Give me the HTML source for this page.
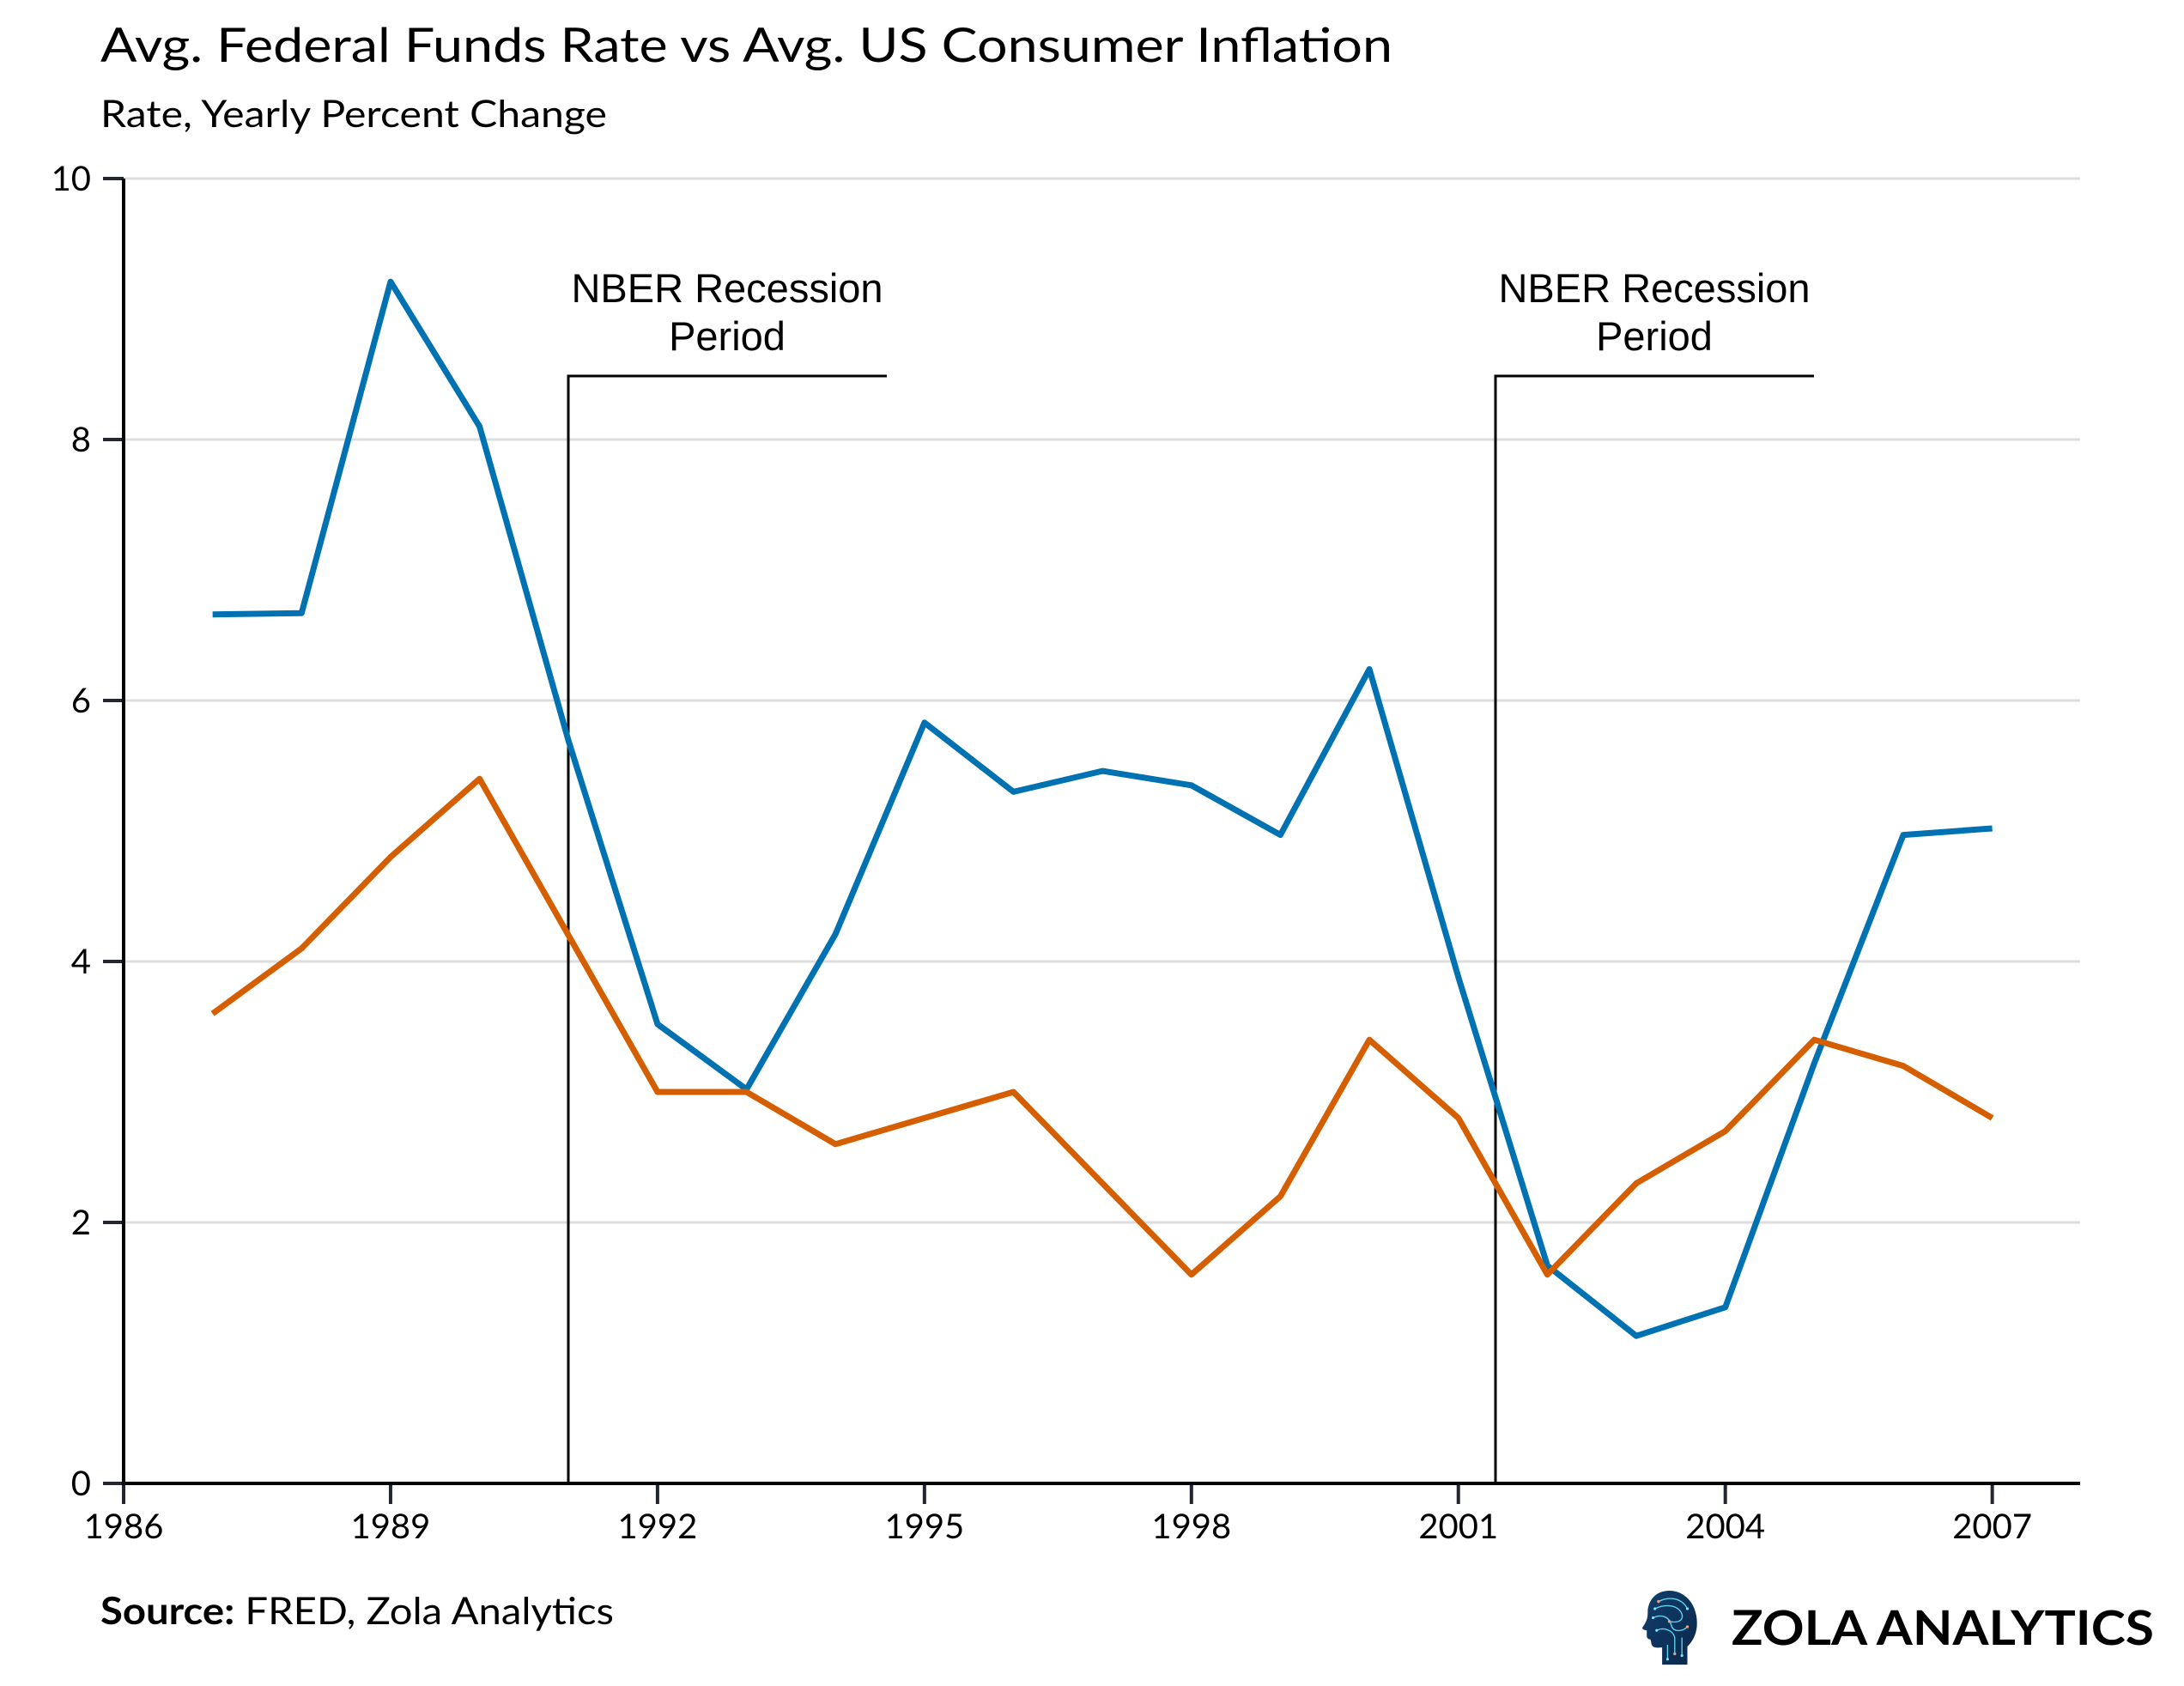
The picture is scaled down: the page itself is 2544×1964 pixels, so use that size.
<!DOCTYPE html>
<html>
<head>
<meta charset="utf-8">
<style>
  html, body { margin: 0; padding: 0; background: #ffffff; }
  svg { display: block; }
</style>
</head>
<body>
<svg width="2544" height="1964" viewBox="0 0 2544 1964" xmlns="http://www.w3.org/2000/svg">
  <rect x="0" y="0" width="2544" height="1964" fill="#ffffff"/>

  <!-- Title and subtitle -->
  <text x="117" y="72" font-family="Lato, 'Liberation Sans', sans-serif" font-size="55" fill="#000" textLength="1505" lengthAdjust="spacingAndGlyphs">Avg. Federal Funds Rate vs Avg. US Consumer Inflation</text>
  <text x="117" y="148" font-family="Lato, 'Liberation Sans', sans-serif" font-size="44" fill="#000" textLength="590" lengthAdjust="spacingAndGlyphs">Rate, Yearly Percent Change</text>

  <!-- Gridlines -->
  <g stroke="#dddddd" stroke-width="3">
    <line x1="144" y1="208" x2="2423" y2="208"/>
    <line x1="144" y1="512" x2="2423" y2="512"/>
    <line x1="144" y1="816" x2="2423" y2="816"/>
    <line x1="144" y1="1120" x2="2423" y2="1120"/>
    <line x1="144" y1="1424" x2="2423" y2="1424"/>
  </g>

  <!-- Y ticks -->
  <g stroke="#222633" stroke-width="4">
    <line x1="120" y1="208" x2="144" y2="208"/>
    <line x1="120" y1="512" x2="144" y2="512"/>
    <line x1="120" y1="816" x2="144" y2="816"/>
    <line x1="120" y1="1120" x2="144" y2="1120"/>
    <line x1="120" y1="1424" x2="144" y2="1424"/>
    <line x1="120" y1="1728" x2="144" y2="1728"/>
  </g>

  <!-- Y labels -->
  <g font-family="Lato, 'Liberation Sans', sans-serif" font-size="40" fill="#000" text-anchor="end">
    <text x="106" y="222">10</text>
    <text x="106" y="526">8</text>
    <text x="106" y="830">6</text>
    <text x="106" y="1134">4</text>
    <text x="106" y="1438">2</text>
    <text x="106" y="1742">0</text>
  </g>

  <!-- X ticks -->
  <g stroke="#222633" stroke-width="4">
    <line x1="144" y1="1728" x2="144" y2="1752"/>
    <line x1="454.95" y1="1728" x2="454.95" y2="1752"/>
    <line x1="765.9" y1="1728" x2="765.9" y2="1752"/>
    <line x1="1076.85" y1="1728" x2="1076.85" y2="1752"/>
    <line x1="1387.8" y1="1728" x2="1387.8" y2="1752"/>
    <line x1="1698.75" y1="1728" x2="1698.75" y2="1752"/>
    <line x1="2009.7" y1="1728" x2="2009.7" y2="1752"/>
    <line x1="2320.65" y1="1728" x2="2320.65" y2="1752"/>
  </g>

  <!-- X labels -->
  <g font-family="Lato, 'Liberation Sans', sans-serif" font-size="40" fill="#000" text-anchor="middle">
    <text x="144" y="1792">1986</text>
    <text x="454.95" y="1792">1989</text>
    <text x="765.9" y="1792">1992</text>
    <text x="1076.85" y="1792">1995</text>
    <text x="1387.8" y="1792">1998</text>
    <text x="1698.75" y="1792">2001</text>
    <text x="2009.7" y="1792">2004</text>
    <text x="2320.65" y="1792">2007</text>
  </g>

  <!-- Recession brackets -->
  <g stroke="#000" stroke-width="3" fill="none">
    <polyline points="662,1728 662,438 1033,438"/>
    <polyline points="1742,1728 1742,438 2113,438"/>
  </g>
  <g font-family="'Liberation Sans', Arial, sans-serif" font-size="47" fill="#000" text-anchor="middle">
    <text x="847" y="352">NBER Recession</text>
    <text x="847" y="408">Period</text>
    <text x="1927" y="352">NBER Recession</text>
    <text x="1927" y="408">Period</text>
  </g>

  <!-- Axes -->
  <line x1="144" y1="208" x2="144" y2="1730" stroke="#000" stroke-width="4"/>
  <line x1="142" y1="1728" x2="2423" y2="1728" stroke="#000" stroke-width="4"/>

  <!-- Federal funds rate (blue) -->
  <polyline fill="none" stroke="#0072B2" stroke-width="7" stroke-linejoin="round" stroke-linecap="butt"
    points="247.65,715.7 351.3,714.2 454.95,328.1 558.6,496.8 662.25,863.1 765.9,1193.0 869.55,1269.0 973.2,1088.1 1076.85,841.8 1180.5,922.4 1284.15,898.1 1387.8,914.8 1491.45,972.6 1595.1,779.5 1698.75,1138.2 1802.4,1474.2 1906.05,1556.2 2009.7,1522.8 2113.35,1238.6 2217.0,972.6 2320.65,965.0"/>

  <!-- CPI inflation (orange) -->
  <polyline fill="none" stroke="#D55E00" stroke-width="7" stroke-linejoin="round" stroke-linecap="butt"
    points="247.65,1180.8 351.3,1104.8 454.95,998.4 558.6,907.2 662.25,1089.6 765.9,1272 869.55,1272 973.2,1332.8 1076.85,1302.4 1180.5,1272 1284.15,1378.4 1387.8,1484.8 1491.45,1393.6 1595.1,1211.2 1698.75,1302.4 1802.4,1484.8 1906.05,1378.4 2009.7,1317.6 2113.35,1211.2 2217.0,1241.6 2320.65,1302.4"/>

  <!-- Footer source -->
  <text x="117" y="1892" font-family="Lato, 'Liberation Sans', sans-serif" font-size="44" fill="#000" textLength="598" lengthAdjust="spacingAndGlyphs"><tspan font-weight="bold">Source:</tspan> FRED, Zola Analytics</text>

  <!-- Logo head -->
  <defs>
    <linearGradient id="hg" x1="0" y1="0" x2="1" y2="1">
      <stop offset="0" stop-color="#123f6e"/>
      <stop offset="1" stop-color="#0a2748"/>
    </linearGradient>
  </defs>
  <g transform="translate(1913,1853) scale(1.05)">
    <path d="M50 82 L50 62 C60 52 62 40 60 28 C57 10 44 0 30 0 C14 0 6 12 6 24 C6 30 5 33 2 38 L0 41 C0 43 3 44 5 44 L5 50 C5 53 7 54 9 54 L10 58 C10 62 14 64 20 63 L22 63 L22 82 Z" fill="url(#hg)"/>
    <g fill="none" stroke="#5fd3f0" stroke-width="1.3">
      <path d="M18 12 C30 6 44 8 50 20"/>
      <path d="M14 20 C26 14 40 16 44 26 C46 34 38 36 30 34"/>
      <path d="M12 30 C20 26 30 28 32 38 C34 46 44 46 50 40"/>
      <path d="M16 44 C24 40 34 44 36 52 L36 70"/>
      <path d="M28 60 L28 76"/>
      <path d="M44 52 L44 72"/>
    </g>
    <g fill="#f2a27a">
      <circle cx="18" cy="12" r="1.6"/>
      <circle cx="30" cy="34" r="1.6"/>
      <circle cx="50" cy="40" r="1.6"/>
      <circle cx="36" cy="70" r="1.6"/>
    </g>
    <g fill="#7fe3ff">
      <circle cx="14" cy="20" r="1.5"/>
      <circle cx="12" cy="30" r="1.5"/>
      <circle cx="16" cy="44" r="1.5"/>
      <circle cx="28" cy="76" r="1.5"/>
      <circle cx="44" cy="72" r="1.5"/>
      <circle cx="50" cy="20" r="1.5"/>
    </g>
  </g>
  <text x="2017" y="1916" font-family="Lato, 'Liberation Sans', sans-serif" font-size="56" font-weight="bold" fill="#000" textLength="492" lengthAdjust="spacingAndGlyphs">ZOLA ANALYTICS</text>
</svg>
</body>
</html>
